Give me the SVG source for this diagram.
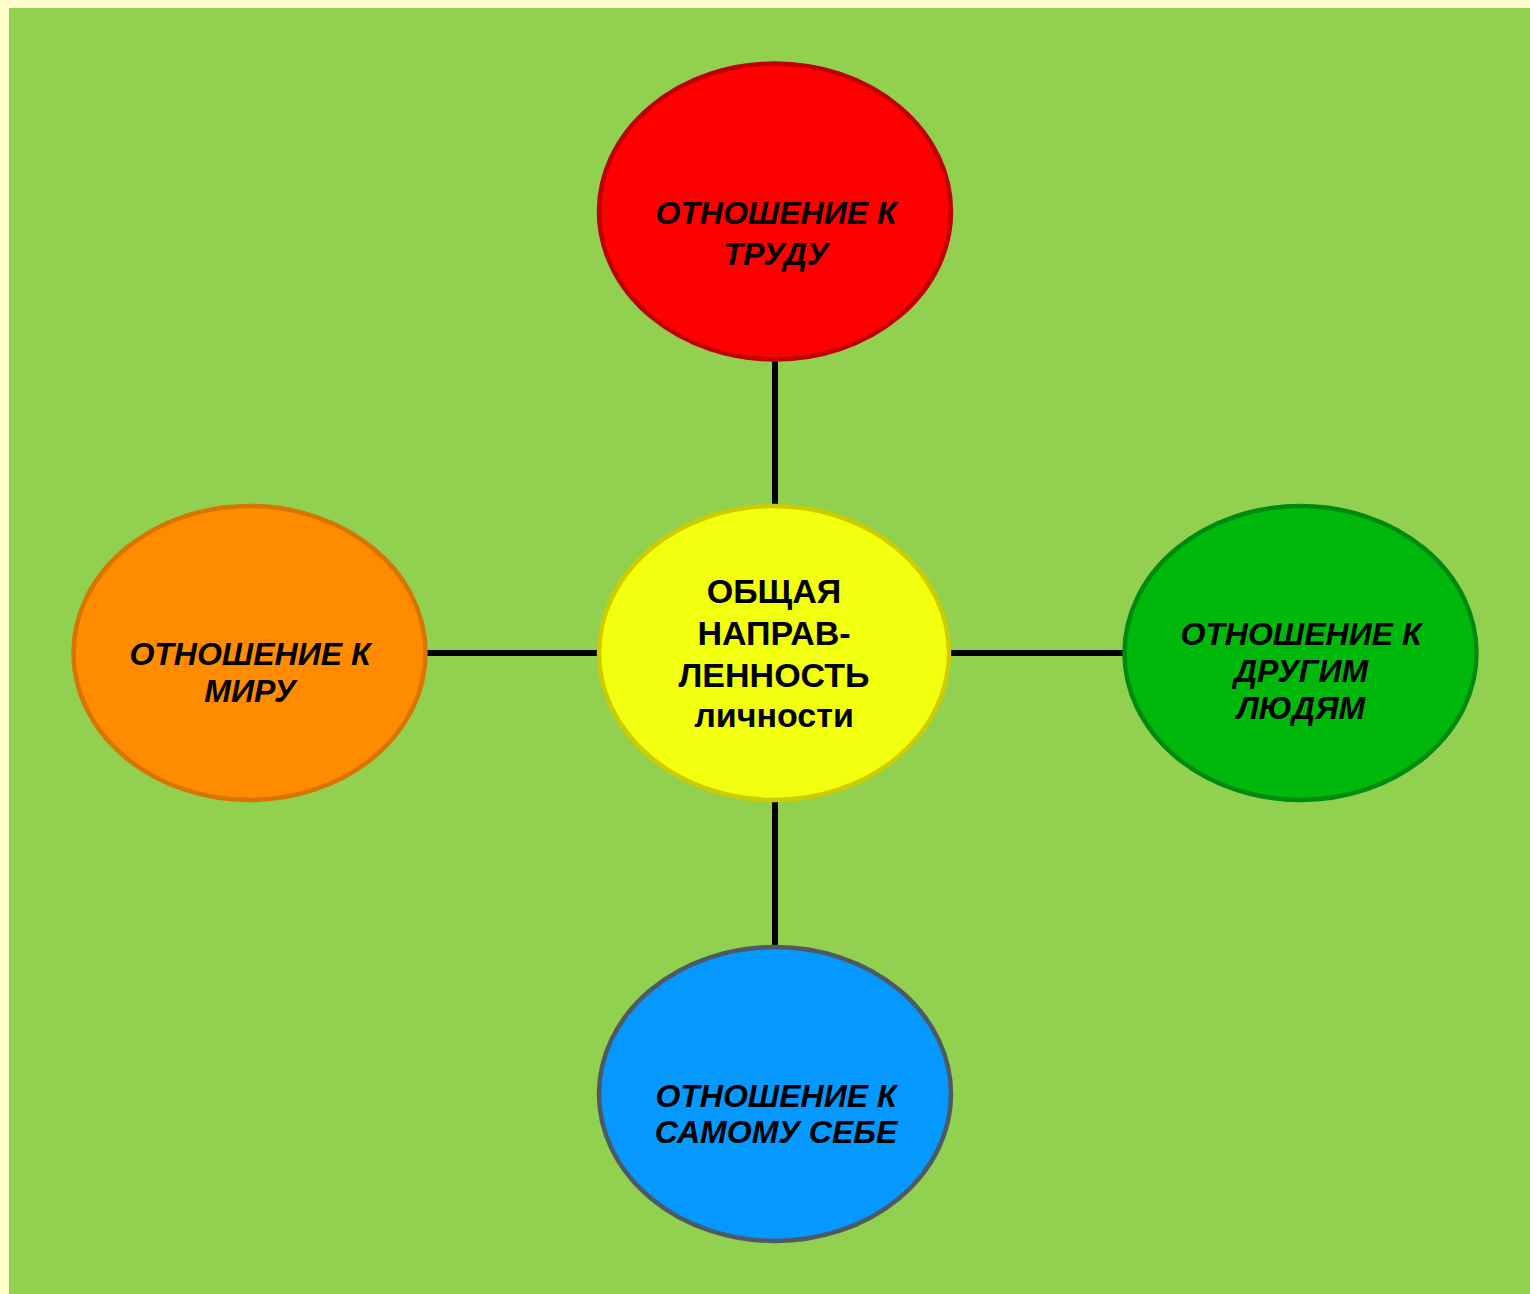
<svg xmlns="http://www.w3.org/2000/svg" width="1530" height="1294" viewBox="0 0 1530 1294">
<style>
.t{font-family:"Liberation Sans",Arial,sans-serif;font-weight:bold;font-style:italic;font-size:32px;fill:#000;text-anchor:middle}
.c{font-family:"Liberation Sans",Arial,sans-serif;font-weight:bold;font-size:34px;fill:#000;text-anchor:middle}
.n{stroke-width:4.5}
</style>
<rect x="0" y="0" width="1530" height="1294" fill="#FFFFCC"/>
<rect x="9" y="8" width="1521" height="1286" fill="#92D050"/>
<g id="connectors" stroke="#000" stroke-width="6">
<line x1="775" y1="360" x2="775" y2="505"/>
<line x1="775" y1="801" x2="775" y2="946"/>
<line x1="426" y1="653" x2="598" y2="653"/>
<line x1="950" y1="653" x2="1124" y2="653"/>
</g>
<g id="top">
<ellipse class="n" cx="775" cy="211.5" rx="176" ry="148" fill="#FF0000" stroke="#C00000"/>
<text class="t" x="776" y="224">ОТНОШЕНИЕ К</text>
<text class="t" x="776" y="265">ТРУДУ</text>
</g>
<g id="center">
<ellipse class="n" cx="774" cy="653" rx="175" ry="147" fill="#F2FF0F" stroke="#CCCC00"/>
<text class="c" x="774" y="603">ОБЩАЯ</text>
<text class="c" x="774" y="645">НАПРАВ-</text>
<text class="c" x="774" y="687">ЛЕННОСТЬ</text>
<text class="c" x="774" y="727">личности</text>
</g>
<g id="left">
<ellipse class="n" cx="249.5" cy="653" rx="176" ry="147" fill="#FF8C00" stroke="#D87400"/>
<text class="t" x="250" y="665">ОТНОШЕНИЕ К</text>
<text class="t" x="250" y="702">МИРУ</text>
</g>
<g id="right">
<ellipse class="n" cx="1300.5" cy="653" rx="176" ry="147" fill="#00B80C" stroke="#008A10"/>
<text class="t" x="1301" y="645">ОТНОШЕНИЕ К</text>
<text class="t" x="1301" y="682">ДРУГИМ</text>
<text class="t" x="1301" y="719">ЛЮДЯМ</text>
</g>
<g id="bottom">
<ellipse class="n" cx="775" cy="1094" rx="176" ry="147" fill="#0599FF" stroke="#4D5A63"/>
<text class="t" x="776" y="1107">ОТНОШЕНИЕ К</text>
<text class="t" x="776" y="1143">САМОМУ СЕБЕ</text>
</g>
</svg>
